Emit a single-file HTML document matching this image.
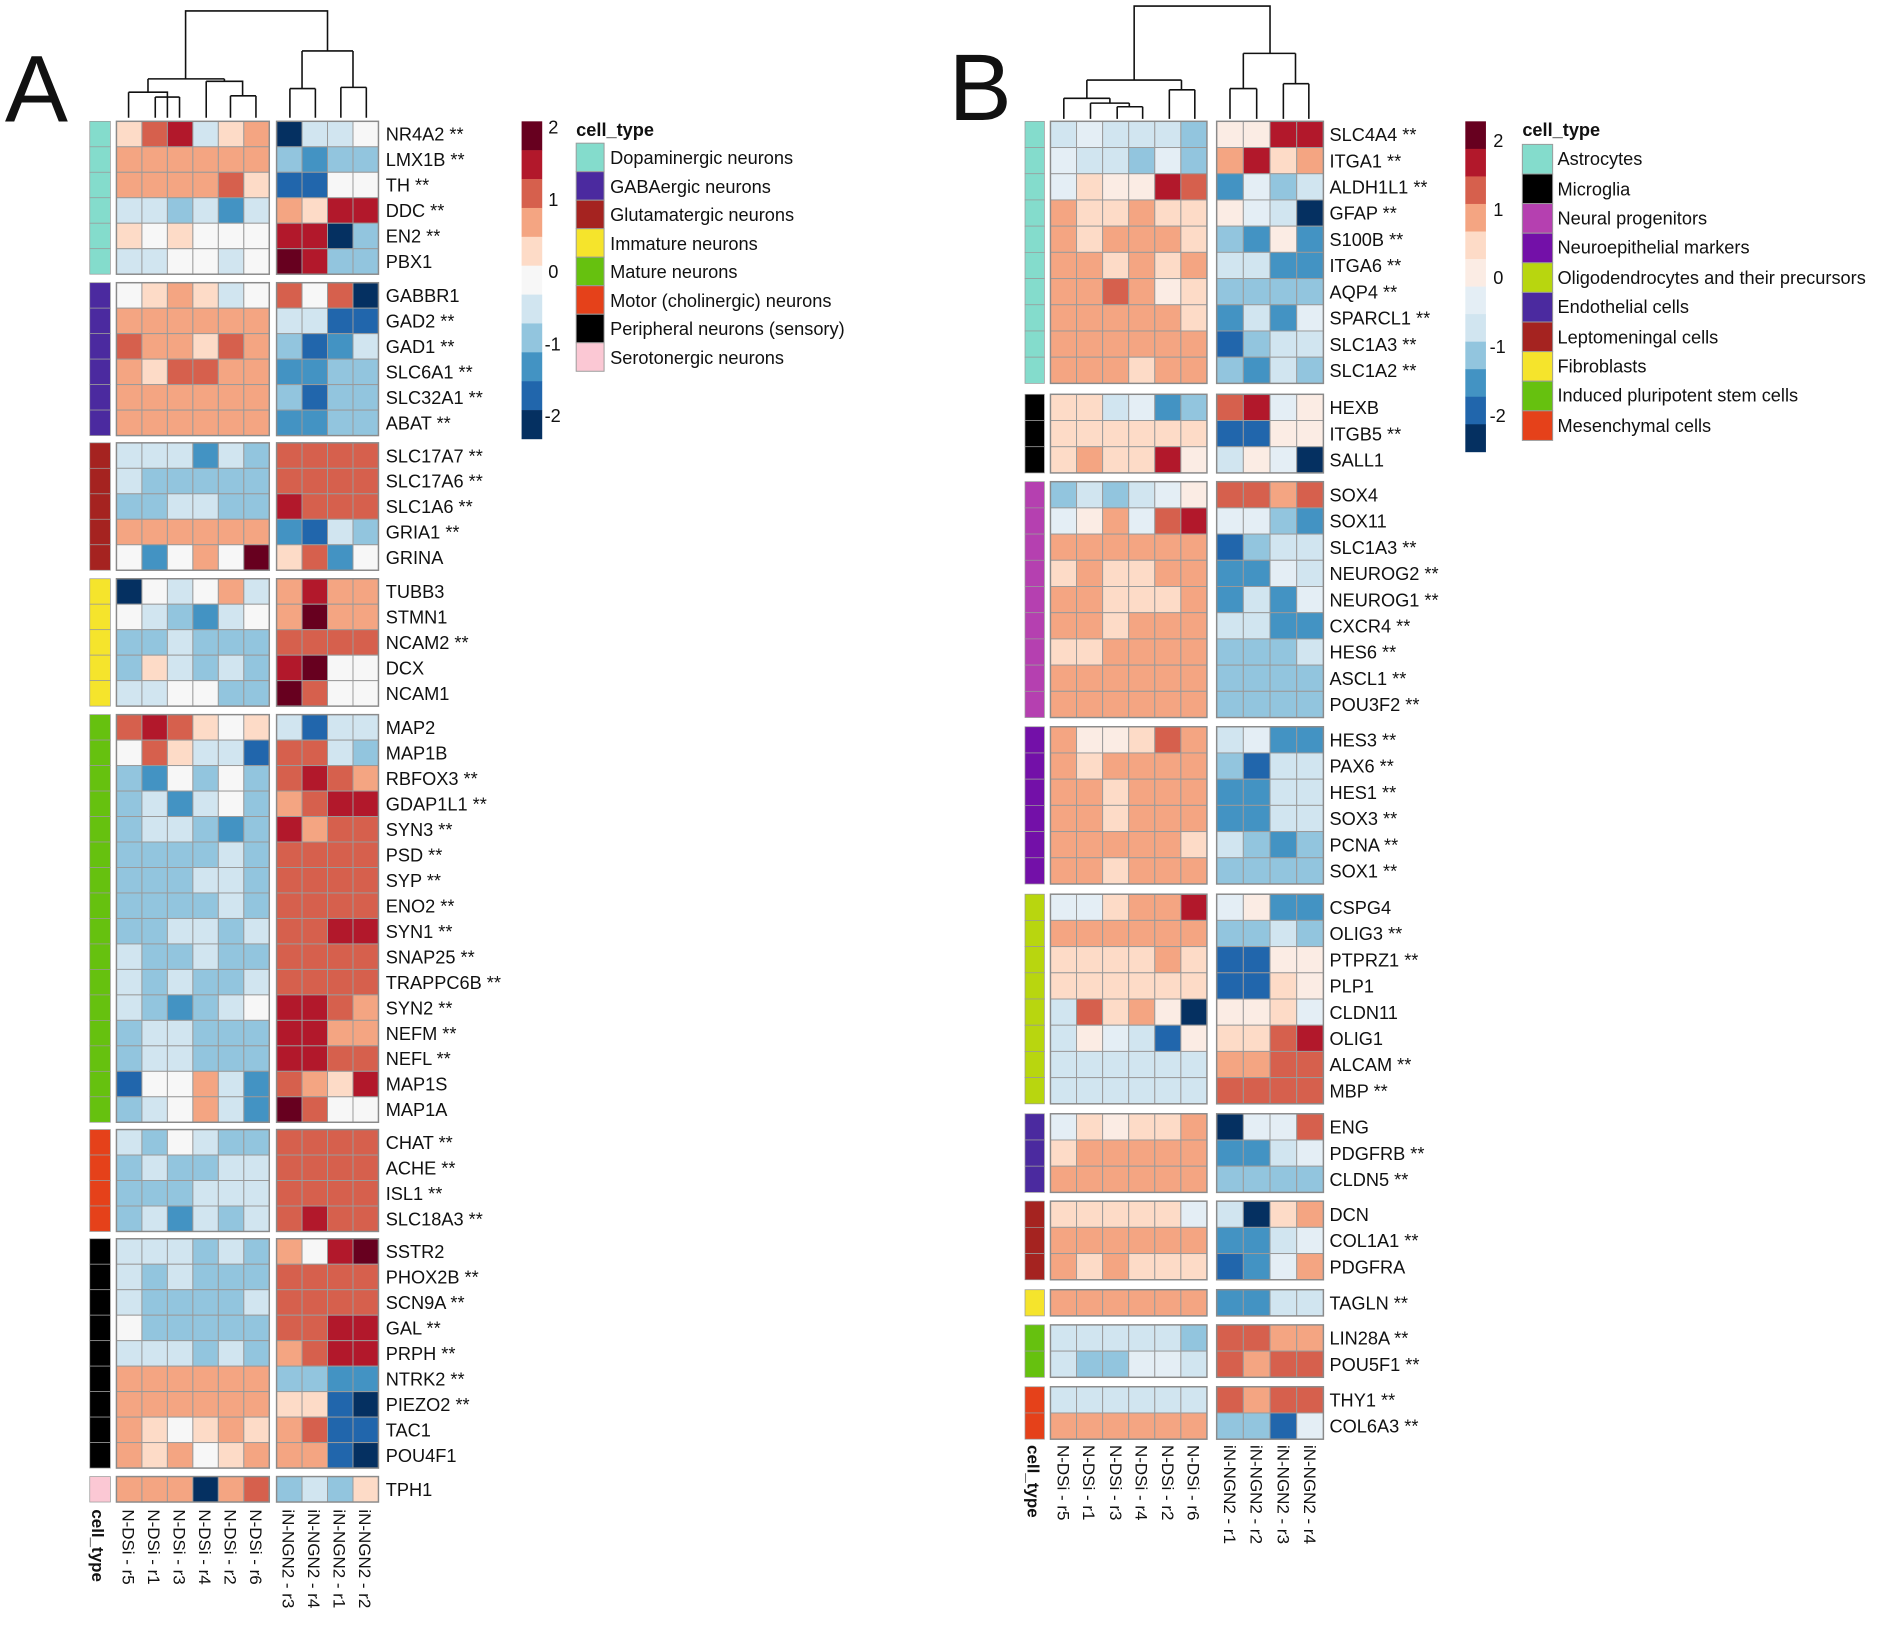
<!DOCTYPE html>
<html><head><meta charset="utf-8"><style>
html,body{margin:0;padding:0;background:#fff}
svg{display:block}
text{font-family:"Liberation Sans",sans-serif;fill:#111}
.la{font-size:15px}
.cl{font-size:14px}
.lg{font-size:15px}
</style></head><body>
<svg id="s" width="1902" height="1627" viewBox="0 0 1568 1341" preserveAspectRatio="none" xmlns="http://www.w3.org/2000/svg">
<rect width="1568" height="1341" fill="#fff"/>
<text x="4" y="100" style="font-size:78px">A</text>
<text x="782" y="99" style="font-size:78px">B</text>
<g id="cells"></g>
<g fill="none" stroke="#111" stroke-width="1.3">
<path d="M153,65V9H270V42"/>
<path d="M122,65H185M122,65V76M185,65V67M106,76H138V97M106,76V97M128,80H148M128,80V97M148,80V97M170,67H200V79M170,67V97M190,79H211M190,79V97M211,79V97"/>
<path d="M249,42H291M249,42V73M291,42V72M239,73H260M239,73V97M260,73V97M281,72H302M281,72V97M302,72V97"/>
<path d="M935,66V5H1047V44"/>
<path d="M896,66H974M896,66V81M974,66V74M877,81H915M877,81V98M915,81V85M899,85H931M899,85V98M921,88H942M931,85V88M921,88V98M942,88V98M964,74H985M964,74V98M985,74V98"/>
<path d="M1025,44H1068M1025,44V73M1068,44V69M1014,73H1036M1014,73V98M1036,73V98M1058,69H1079M1058,69V98M1079,69V98"/>
</g>
<g id="labA"><text class="la">NR4A2 **</text><text class="la">LMX1B **</text><text class="la">TH **</text><text class="la">DDC **</text><text class="la">EN2 **</text><text class="la">PBX1</text><text class="la">GABBR1</text><text class="la">GAD2 **</text><text class="la">GAD1 **</text><text class="la">SLC6A1 **</text><text class="la">SLC32A1 **</text><text class="la">ABAT **</text><text class="la">SLC17A7 **</text><text class="la">SLC17A6 **</text><text class="la">SLC1A6 **</text><text class="la">GRIA1 **</text><text class="la">GRINA</text><text class="la">TUBB3</text><text class="la">STMN1</text><text class="la">NCAM2 **</text><text class="la">DCX</text><text class="la">NCAM1</text><text class="la">MAP2</text><text class="la">MAP1B</text><text class="la">RBFOX3 **</text><text class="la">GDAP1L1 **</text><text class="la">SYN3 **</text><text class="la">PSD **</text><text class="la">SYP **</text><text class="la">ENO2 **</text><text class="la">SYN1 **</text><text class="la">SNAP25 **</text><text class="la">TRAPPC6B **</text><text class="la">SYN2 **</text><text class="la">NEFM **</text><text class="la">NEFL **</text><text class="la">MAP1S</text><text class="la">MAP1A</text><text class="la">CHAT **</text><text class="la">ACHE **</text><text class="la">ISL1 **</text><text class="la">SLC18A3 **</text><text class="la">SSTR2</text><text class="la">PHOX2B **</text><text class="la">SCN9A **</text><text class="la">GAL **</text><text class="la">PRPH **</text><text class="la">NTRK2 **</text><text class="la">PIEZO2 **</text><text class="la">TAC1</text><text class="la">POU4F1</text><text class="la">TPH1</text></g>
<g id="labB"><text class="la">SLC4A4 **</text><text class="la">ITGA1 **</text><text class="la">ALDH1L1 **</text><text class="la">GFAP **</text><text class="la">S100B **</text><text class="la">ITGA6 **</text><text class="la">AQP4 **</text><text class="la">SPARCL1 **</text><text class="la">SLC1A3 **</text><text class="la">SLC1A2 **</text><text class="la">HEXB</text><text class="la">ITGB5 **</text><text class="la">SALL1</text><text class="la">SOX4</text><text class="la">SOX11</text><text class="la">SLC1A3 **</text><text class="la">NEUROG2 **</text><text class="la">NEUROG1 **</text><text class="la">CXCR4 **</text><text class="la">HES6 **</text><text class="la">ASCL1 **</text><text class="la">POU3F2 **</text><text class="la">HES3 **</text><text class="la">PAX6 **</text><text class="la">HES1 **</text><text class="la">SOX3 **</text><text class="la">PCNA **</text><text class="la">SOX1 **</text><text class="la">CSPG4</text><text class="la">OLIG3 **</text><text class="la">PTPRZ1 **</text><text class="la">PLP1</text><text class="la">CLDN11</text><text class="la">OLIG1</text><text class="la">ALCAM **</text><text class="la">MBP **</text><text class="la">ENG</text><text class="la">PDGFRB **</text><text class="la">CLDN5 **</text><text class="la">DCN</text><text class="la">COL1A1 **</text><text class="la">PDGFRA</text><text class="la">TAGLN **</text><text class="la">LIN28A **</text><text class="la">POU5F1 **</text><text class="la">THY1 **</text><text class="la">COL6A3 **</text></g>
<g class="cl">
<text transform="translate(76,1244) rotate(90)" style="font-weight:bold;font-size:14px">cell_type</text>
<text transform="translate(101,1244) rotate(90)" class="cl">N-DSi - r5</text>
<text transform="translate(122,1244) rotate(90)" class="cl">N-DSi - r1</text>
<text transform="translate(143,1244) rotate(90)" class="cl">N-DSi - r3</text>
<text transform="translate(164,1244) rotate(90)" class="cl">N-DSi - r4</text>
<text transform="translate(185,1244) rotate(90)" class="cl">N-DSi - r2</text>
<text transform="translate(206,1244) rotate(90)" class="cl">N-DSi - r6</text>
<text transform="translate(233,1244) rotate(90)" class="cl">iN-NGN2 - r3</text>
<text transform="translate(254,1244) rotate(90)" class="cl">iN-NGN2 - r4</text>
<text transform="translate(275,1244) rotate(90)" class="cl">iN-NGN2 - r1</text>
<text transform="translate(296,1244) rotate(90)" class="cl">iN-NGN2 - r2</text>
<text transform="translate(847,1191) rotate(90)" style="font-weight:bold;font-size:14px">cell_type</text>
<text transform="translate(872,1191) rotate(90)" class="cl">N-DSi - r5</text>
<text transform="translate(893,1191) rotate(90)" class="cl">N-DSi - r1</text>
<text transform="translate(915,1191) rotate(90)" class="cl">N-DSi - r3</text>
<text transform="translate(936,1191) rotate(90)" class="cl">N-DSi - r4</text>
<text transform="translate(958,1191) rotate(90)" class="cl">N-DSi - r2</text>
<text transform="translate(979,1191) rotate(90)" class="cl">N-DSi - r6</text>
<text transform="translate(1009,1191) rotate(90)" class="cl">iN-NGN2 - r1</text>
<text transform="translate(1031,1191) rotate(90)" class="cl">iN-NGN2 - r2</text>
<text transform="translate(1053,1191) rotate(90)" class="cl">iN-NGN2 - r3</text>
<text transform="translate(1075,1191) rotate(90)" class="cl">iN-NGN2 - r4</text>
</g>
<g id="cbar"></g>
<g class="lg">
<text x="452" y="110">2</text><text x="452" y="170">1</text><text x="452" y="229">0</text><text x="449" y="289">-1</text><text x="449" y="348">-2</text>
<text x="475" y="112" style="font-weight:bold">cell_type</text>
<text x="503" y="135">Dopaminergic neurons</text><text x="503" y="159">GABAergic neurons</text><text x="503" y="182">Glutamatergic neurons</text><text x="503" y="206">Immature neurons</text><text x="503" y="229">Mature neurons</text><text x="503" y="253">Motor (cholinergic) neurons</text><text x="503" y="276">Peripheral neurons (sensory)</text><text x="503" y="300">Serotonergic neurons</text>
<text x="1231" y="121">2</text><text x="1231" y="178">1</text><text x="1231" y="234">0</text><text x="1228" y="291">-1</text><text x="1228" y="348">-2</text>
<text x="1255" y="112" style="font-weight:bold">cell_type</text>
<text x="1284" y="136">Astrocytes</text><text x="1284" y="161">Microglia</text><text x="1284" y="185">Neural progenitors</text><text x="1284" y="209">Neuroepithelial markers</text><text x="1284" y="234">Oligodendrocytes and their precursors</text><text x="1284" y="258">Endothelial cells</text><text x="1284" y="283">Leptomeningal cells</text><text x="1284" y="307">Fibroblasts</text><text x="1284" y="331">Induced pluripotent stem cells</text><text x="1284" y="356">Mesenchymal cells</text>
</g>
</svg>
<script>
var C={D:'#67001f',R:'#b2182b',r:'#d6604d',o:'#f4a582',p:'#fddbc7',q:'#fbece4',w:'#f7f7f7',e:'#e4eef5',l:'#d1e5f0',b:'#92c5de',m:'#4393c3',B:'#2166ac',N:'#053061'};
var NS='http://www.w3.org/2000/svg';var G=document.getElementById('cells');
function R(x,y,w,h,f,s,sw,par){var e=document.createElementNS(NS,'rect');e.setAttribute('x',x);e.setAttribute('y',y);e.setAttribute('width',w);e.setAttribute('height',h);e.setAttribute('fill',f);if(s){e.setAttribute('stroke',s);e.setAttribute('stroke-width',sw||0.8);}(par||G).appendChild(e);}
var A={ax:74,aw:17,l:96,lw:21,r:228,rw:21,h:21,lab:318,labs:'labA',
g:[[100,'#84dccc',['prRlpo|Nllw','oooooo|bmbb','oooorp|BBww','llblml|opRR','pwpwww|RRNb','llwwlw|DRbb']],
[233,'#4b2a9f',['wpopl w|rwrN'.replace(' ',''),'oooooo|llBB','roopro|bBml','oprroo|mmbb','oooooo|bBbb','oooooo|mmbb']],
[365,'#a52320',['lllmlb|rrrr','lbbbbb|rrrr','bbllbb|Rrrr','oooooo|mBlb','wmwowD|prmw']],
[477,'#f5e42c',['Nwlwol|oRoo','wlbmlw|oDoo','bblbbb|rrrr','bplblb|RDww','llwwbb|Drww']],
[589,'#66c10f',['rRrpwp|lBll','wrpllB|rrlb','bmwbwb|rRro','blmlwb|orRR','bllbmb|Rorr','bbbblb|rrrr','bbbllb|rrrr','bbbblb|rrrr','bbllbl|rrRR','lbblbb|rrrr','lblbbl|rrrr','lbmblw|RRro','bllbbb|RRoo','bllbbb|RRrr','Bwwolm|ropR','blwolm|Drww']],
[931,'#e5411a',['lbwlbb|rrrr','blbbll|rrrr','bbblll|rrrr','blmlbl|rRrr']],
[1021,'#000000',['lllblb|owRD','lblbbb|rrrr','lbbbbl|rrrr','wbbbbb|rrRR','lllblb|orRR','oooooo|bbmm','oooooo|ppBN','opwpop|orBB','opowpo|ooBN']],
[1217,'#fbc8d4',['oooNor|blbp']]]};
var B={ax:845,aw:16,l:866,lw:21.5,r:1003,rw:22,h:21.6,lab:1096,labs:'labB',
g:[[100,'#84dccc',['lelllb|qqRR','ellbeb|oRpo','epqqRr|mebl','oppopp|qelN','opooop|bmqm','oopopo|llmm','ooroqp|bbbb','ooooop|mlme','oooooo|Bbll','ooopoo|bmlb']],
[325,'#000000',['pplemb|rReq','pppppp|BBqq','poppRq|lqeN']],
[397,'#b540b0',['blbleq|rror','eqoerR|eebm','oooooo|Bbll','poppoo|mmel','oopppoo|mlme'.slice(0,6)+'|mlme','oopooo|llmm','ppoooo|bbbl','oooooo|bbbb','oooooo|bbbb']],
[599,'#7310a8',['oqqpro|lemm','opoooo|bBll','oopooo|mmll','oopooo|mmll','ooooop|lbmb','oopooo|bbbb']],
[737,'#b8d60f',['eepooR|eqmm','oooooo|bblb','ppppop|BBqq','pppppp|BBpq','lrpoqN|qqpe','lqelBq|pprR','llllll|oorr','llllll|rrrr']],
[918,'#4b2a9f',['epqppo|Neer','pooooo|mmle','oooooo|bbbb']],
[990,'#a52320',['pppppe|lNpo','oooooo|mmle','opoppp|Bmeo']],
[1063,'#f5e42c',['oooooo|mmll']],
[1092,'#66c10f',['lllllb|rroo','lbbeel|rorr']],
[1143,'#e5411a',['llllll|rorr','oooooo|bbBe']]]};
function draw(P){var labs=document.getElementById(P.labs).children,k=0;
P.g.forEach(function(g){var y0=g[0],n=g[2].length,H=n*P.h;
for(var i=0;i<n;i++){var y=y0+i*P.h,s=g[2][i].split('|');
R(P.ax,y,P.aw,P.h,g[1],'#9a9a9a',0.6);
for(var j=0;j<6;j++)R(P.l+j*P.lw,y,P.lw,P.h,C[s[0][j]]||'#fff','#9a9a9a',0.8);
for(var j=0;j<4;j++)R(P.r+j*P.rw,y,P.rw,P.h,C[s[1][j]]||'#fff','#9a9a9a',0.8);
var t=labs[k++];t.setAttribute('x',P.lab);t.setAttribute('y',y+P.h/2+5.5);}
R(P.l,y0,6*P.lw,H,'none','#8a8a8a',1.2);R(P.r,y0,4*P.rw,H,'none','#8a8a8a',1.2);});}
draw(A);draw(B);
var cb=document.getElementById('cbar');
'DRropwlbmBN'.split('').forEach(function(c,i){R(430,100+i*23.8,17,24,C[c],null,0,cb);});
'DRropqelbmBN'.split('').forEach(function(c,i){R(1208,100+i*22.7,17,23,C[c],null,0,cb);});
['#84dccc','#4b2a9f','#a52320','#f5e42c','#66c10f','#e5411a','#000000','#fbc8d4'].forEach(function(c,i){R(475,118+i*23.5,23,23.5,c,'#9a9a9a',0.8,cb);});
['#84dccc','#000000','#b540b0','#7310a8','#b8d60f','#4b2a9f','#a52320','#f5e42c','#66c10f','#e5411a'].forEach(function(c,i){R(1255,119+i*24.4,25,24.4,c,'#9a9a9a',0.8,cb);});
</script>
</body></html>
